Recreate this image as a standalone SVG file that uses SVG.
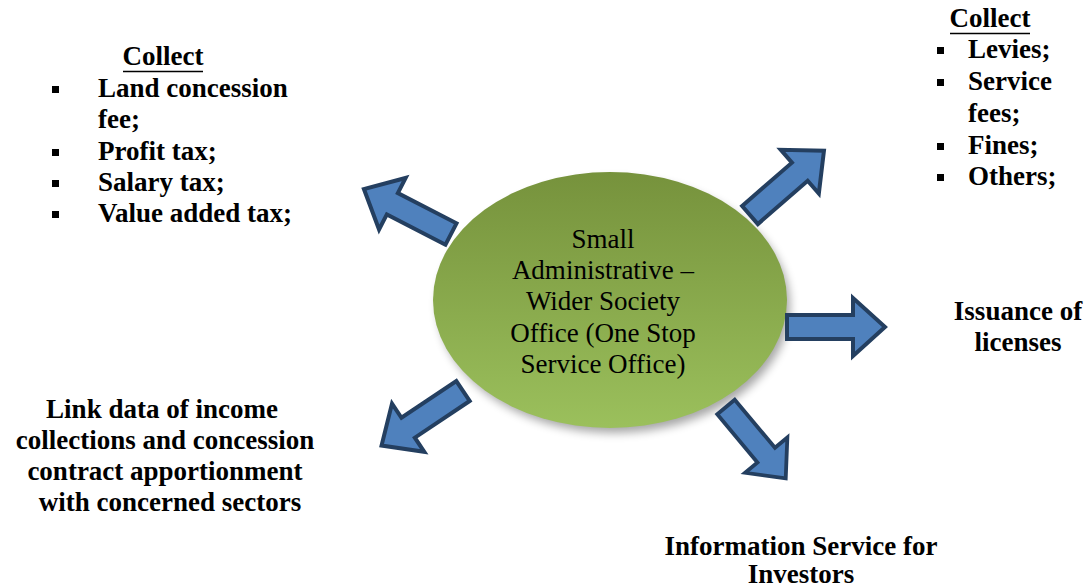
<svg xmlns="http://www.w3.org/2000/svg" width="1092" height="588" viewBox="0 0 1092 588">
  <style>
    .lbl { font-family: "Liberation Serif", "Times New Roman", serif; font-size: 27px; font-weight: bold; fill: #000; }
    .ctr { text-anchor: middle; }
    .core { font-family: "Liberation Serif", "Times New Roman", serif; font-size: 27px; fill: #000; text-anchor: middle; }
    .blk { stroke: #243f60; stroke-width: 4; fill: #4f81bd; stroke-linejoin: miter; }
    .ul { stroke: #000; stroke-width: 1.6; }
    .bul { fill: #000; }
  </style>
  <defs>
    <linearGradient id="greenFill" x1="0" y1="0" x2="0" y2="1">
      <stop offset="0" stop-color="#76923c"/>
      <stop offset="1" stop-color="#9bc05c"/>
    </linearGradient>
    <filter id="soft" x="-20%" y="-20%" width="140%" height="140%">
      <feGaussianBlur stdDeviation="5"/>
    </filter>
    <!-- block arrow pointing along +x, tail at origin -->
    <path id="blockArrow" d="M0,-12 H66 V-29 L98,0 L66,29 V12 H0 Z"/>
  </defs>
  <rect width="1092" height="588" fill="#fff"/>

  <!-- central office -->
  <g id="office">
    <ellipse cx="614" cy="306" rx="176" ry="127" fill="#000" opacity="0.35" filter="url(#soft)"/>
    <ellipse cx="610" cy="300" rx="177" ry="128" fill="url(#greenFill)"/>
    <text class="core" x="603" y="248">Small</text>
    <text class="core" x="603" y="279">Administrative –</text>
    <text class="core" x="603" y="310">Wider Society</text>
    <text class="core" x="603" y="342">Office (One Stop</text>
    <text class="core" x="603" y="373">Service Office)</text>
  </g>

  <!-- connectors -->
  <g id="connectors">
    <use href="#blockArrow" class="blk" transform="translate(451,234) rotate(207.3)"/>
    <use href="#blockArrow" class="blk" transform="translate(750,215) rotate(-41)"/>
    <use href="#blockArrow" class="blk" transform="translate(787,327)"/>
    <use href="#blockArrow" class="blk" transform="translate(463,391) rotate(146.2)"/>
    <use href="#blockArrow" class="blk" transform="translate(726,407) rotate(50.1) scale(0.95)"/>
  </g>

  <!-- taxes collected -->
  <g id="taxes">
    <text class="lbl ctr" x="163" y="65">Collect</text>
    <line class="ul" x1="123" y1="71.5" x2="203" y2="71.5"/>
    <rect class="bul" x="52" y="86" width="7" height="7"/>
    <text class="lbl" x="98" y="97">Land concession</text>
    <text class="lbl" x="98" y="128">fee;</text>
    <rect class="bul" x="52" y="149" width="7" height="7"/>
    <text class="lbl" x="98" y="160">Profit tax;</text>
    <rect class="bul" x="52" y="180" width="7" height="7"/>
    <text class="lbl" x="98" y="191">Salary tax;</text>
    <rect class="bul" x="52" y="211" width="7" height="7"/>
    <text class="lbl" x="98" y="222">Value added tax;</text>
  </g>

  <!-- levies and fees collected -->
  <g id="levies">
    <text class="lbl ctr" x="990" y="27">Collect</text>
    <line class="ul" x1="950" y1="33.5" x2="1030" y2="33.5"/>
    <rect class="bul" x="937" y="47" width="7" height="7"/>
    <text class="lbl" x="968" y="58">Levies;</text>
    <rect class="bul" x="937" y="79" width="7" height="7"/>
    <text class="lbl" x="968" y="90">Service</text>
    <text class="lbl" x="968" y="122">fees;</text>
    <rect class="bul" x="937" y="143" width="7" height="7"/>
    <text class="lbl" x="968" y="154">Fines;</text>
    <rect class="bul" x="937" y="174" width="7" height="7"/>
    <text class="lbl" x="968" y="185">Others;</text>
  </g>

  <!-- licensing -->
  <g id="licenses">
    <text class="lbl ctr" x="1018" y="320">Issuance of</text>
    <text class="lbl ctr" x="1018" y="351">licenses</text>
  </g>

  <!-- data linking -->
  <g id="data-link">
    <text class="lbl ctr" x="162" y="418">Link data of income</text>
    <text class="lbl ctr" x="165" y="449">collections and concession</text>
    <text class="lbl ctr" x="165" y="480">contract apportionment</text>
    <text class="lbl ctr" x="170" y="511">with concerned sectors</text>
  </g>

  <!-- investor information -->
  <g id="investors">
    <text class="lbl ctr" x="801" y="555">Information Service for</text>
    <text class="lbl ctr" x="801" y="583">Investors</text>
  </g>
</svg>
